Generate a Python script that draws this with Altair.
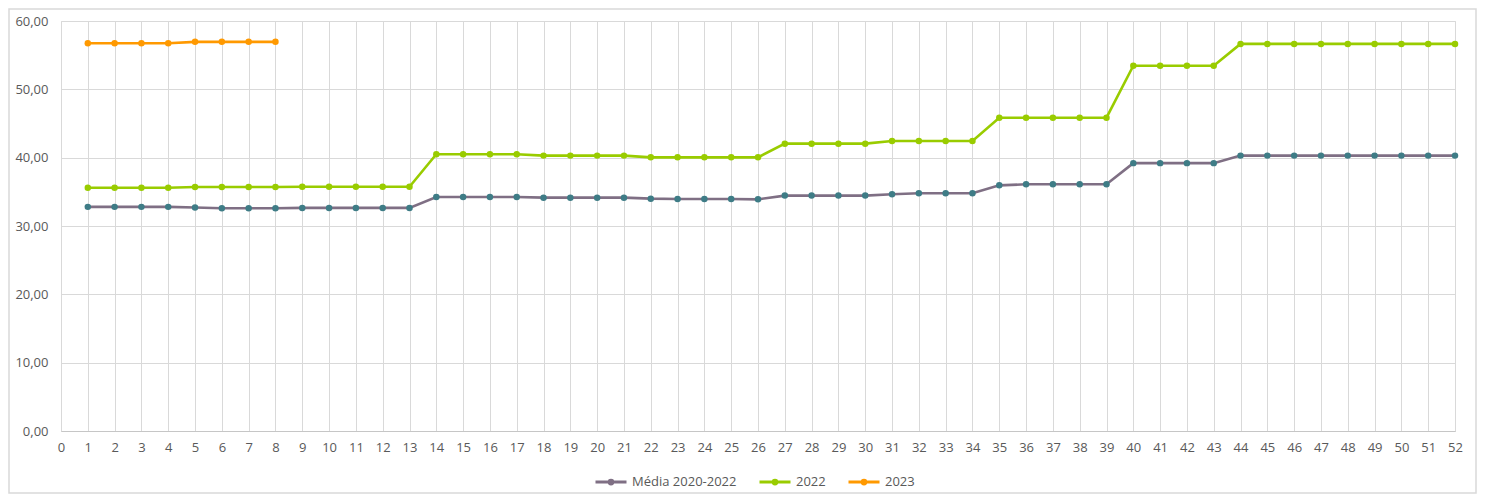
import altair as alt
import pandas as pd

weeks = list(range(1, 53))
media = ([32.8] * 4 + [32.7] + [32.6] * 3 + [32.65] * 5 + [34.25] * 4 + [34.15] * 4 +
         [34.0] + [33.95] * 3 + [33.9] + [34.45] * 4 + [34.65] + [34.8] * 3 +
         [35.95] + [36.1] * 4 + [39.2] * 4 + [40.3] * 9)
y2022 = ([35.6] * 4 + [35.7] * 4 + [35.75] * 5 + [40.5] * 4 + [40.3] * 4 +
         [40.05] * 5 + [42.05] * 4 + [42.45] * 4 + [45.85] * 5 + [53.45] * 4 + [56.65] * 9)
y2023 = [56.75] * 4 + [56.95] * 4

series_names = ["Média 2020-2022", "2022", "2023"]
line_colors = ["#7F6F84", "#99CC00", "#FF9900"]
marker_colors = ["#3E7C86", "#99CC00", "#FF9900"]

rows = []
for name, vals in zip(series_names, [media, y2022, y2023]):
    for w, v in zip(weeks, vals):
        rows.append({"semana": w, "valor": v, "serie": name})
df = pd.DataFrame(rows)

font = "Open Sans"
txt = "#595959"

x_enc = alt.X("semana:Q", scale=alt.Scale(domain=[0, 52], nice=False),
              axis=alt.Axis(values=list(range(0, 53)), title=None, grid=True,
                            gridColor="#D9D9D9", ticks=False, domainColor="#C6C6C6",
                            labelFont=font, labelFontSize=13, labelColor=txt,
                            labelPadding=10, labelFlush=False, labelOverlap=False))
y_enc = alt.Y("valor:Q", scale=alt.Scale(domain=[0, 60], nice=False),
              axis=alt.Axis(values=[0, 10, 20, 30, 40, 50, 60], title=None, grid=True,
                            gridColor="#D9D9D9", ticks=False, domain=False,
                            labelFont=font, labelFontSize=13, labelColor=txt,
                            labelPadding=13,
                            labelExpr="replace(format(datum.value, '.2f'), '.', ',')"))

legend_path = "M-1,0L1,0M-0.12,0a0.12,0.12 0 1,0 0.24,0a0.12,0.12 0 1,0 -0.24,0"

lines = alt.Chart(df).mark_line().encode(
    x=x_enc, y=y_enc,
    color=alt.Color("serie:N", scale=alt.Scale(domain=series_names, range=line_colors),
                    legend=alt.Legend(title=None, orient="none", direction="horizontal",
                                      legendX=533, legendY=444,
                                      symbolType=legend_path, symbolSize=961,
                                      symbolStrokeWidth=3, labelFont=font,
                                      labelFontSize=13, labelColor=txt,
                                      labelOffset=4, columnPadding=16)),
    strokeWidth=alt.StrokeWidth("serie:N", scale=alt.Scale(domain=series_names, range=[2.6, 2.6, 3.6]),
                                legend=None),
    detail="serie:N",
)

points = alt.Chart(df).mark_point(filled=True, opacity=1, size=42).encode(
    x=x_enc, y=y_enc,
    fill=alt.Fill("serie:N", scale=alt.Scale(domain=series_names, range=marker_colors),
                  legend=None),
)

frame = alt.Chart(alt.Data(values=[{}])).mark_rect(filled=False, stroke="#D9D9D9", strokeWidth=1.5).encode(
    x=alt.value(-52), x2=alt.value(1394 + 21), y=alt.value(-12), y2=alt.value(410 + 62)
)

chart = alt.layer(frame, lines, points).resolve_scale(color="independent", fill="independent").properties(
    width=1394, height=410,
    padding={"left": 53, "top": 13, "right": 22, "bottom": 63},
    autosize="none",
).configure_view(stroke=None).configure_axis(labelOverlap=False).configure_axisY(
    labelPadding=13
).configure(background="white")

chart.save("out.html", embed_options={"renderer": "svg", "actions": False})
